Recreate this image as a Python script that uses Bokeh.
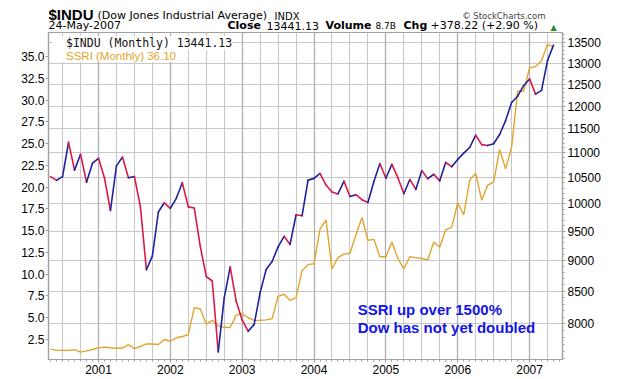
import numpy as np
from bokeh.plotting import figure
from bokeh.layouts import column
from bokeh.models import (Range1d, LinearAxis, LinearScale, FixedTicker, NumeralTickFormatter,
                          Label, Legend, LegendItem, Grid)
from bokeh.embed import file_html
from bokeh.resources import INLINE

# ---------------- data ----------------
months = ["2000-05", "2000-06", "2000-07", "2000-08", "2000-09", "2000-10", "2000-11", "2000-12",
          "2001-01", "2001-02", "2001-03", "2001-04", "2001-05", "2001-06", "2001-07", "2001-08", "2001-09", "2001-10", "2001-11", "2001-12",
          "2002-01", "2002-02", "2002-03", "2002-04", "2002-05", "2002-06", "2002-07", "2002-08", "2002-09", "2002-10", "2002-11", "2002-12",
          "2003-01", "2003-02", "2003-03", "2003-04", "2003-05", "2003-06", "2003-07", "2003-08", "2003-09", "2003-10", "2003-11", "2003-12",
          "2004-01", "2004-02", "2004-03", "2004-04", "2004-05", "2004-06", "2004-07", "2004-08", "2004-09", "2004-10", "2004-11", "2004-12",
          "2005-01", "2005-02", "2005-03", "2005-04", "2005-05", "2005-06", "2005-07", "2005-08", "2005-09", "2005-10", "2005-11", "2005-12",
          "2006-01", "2006-02", "2006-03", "2006-04", "2006-05", "2006-06", "2006-07", "2006-08", "2006-09", "2006-10", "2006-11", "2006-12",
          "2007-01", "2007-02", "2007-03", "2007-04", "2007-05"]

dow = [10522, 10448, 10522, 11215, 10651, 10971, 10415, 10788,
       10887, 10495, 9879, 10735, 10912, 10502, 10523, 9950, 8848, 9075, 9852, 10022,
       9920, 10106, 10404, 9946, 9925, 9243, 8737, 8664, 7592, 8397, 8896, 8342,
       8054, 7891, 7992, 8480, 8850, 8985, 9234, 9416, 9275, 9801, 9782, 10454,
       10488, 10584, 10358, 10226, 10188, 10435, 10140, 10174, 10080, 10027, 10428, 10783,
       10490, 10766, 10504, 10193, 10467, 10275, 10641, 10482, 10569, 10440, 10806, 10718,
       10865, 10993, 11109, 11367, 11168, 11150, 11186, 11381, 11679, 12081, 12222, 12463,
       12622, 12269, 12354, 13063, 13441]

ssri = [1.40, 1.25, 1.25, 1.25, 1.33, 1.05, 1.20, 1.35,
        1.55, 1.63, 1.55, 1.50, 1.52, 1.90, 1.45, 1.70, 2.00, 1.98, 1.93, 2.50,
        2.30, 2.70, 2.85, 3.05, 6.15, 6.00, 4.25, 4.70, 4.05, 3.90, 3.88, 5.30,
        5.45, 5.00, 4.70, 4.70, 4.75, 4.90, 7.45, 7.70, 7.00, 7.30, 10.40, 11.10,
        11.20, 15.20, 16.20, 10.60, 11.90, 12.30, 12.40, 14.50, 16.50, 13.90, 14.00, 12.00,
        12.00, 13.70, 11.80, 10.60, 12.00, 11.90, 11.80, 11.65, 13.70, 13.10, 15.10, 15.40,
        18.20, 16.80, 20.80, 21.60, 18.50, 20.20, 20.60, 24.30, 22.10, 24.60, 31.00, 31.00,
        33.70, 33.85, 34.50, 36.40, 36.10]

year_ticks = [0, 12, 24, 36, 48, 60, 72]
year_labels = ["2001", "2002", "2003", "2004", "2005", "2006", "2007"]
quarter_ticks = [-6, -3, 0, 3, 6, 9, 12, 15, 18, 21, 24, 27, 30, 33, 36, 39, 42, 45, 48,
                 51, 54, 57, 60, 63, 66, 69, 72, 75]
month_ticks = list(range(-8, 78))
dow_ticks = [8000, 8500, 9000, 9500, 10000, 10500, 11000, 11500, 12000, 12500, 13000, 13500]
dow_minor = list(range(7500, 13800, 100))
ssri_ticks = [2.5, 5.0, 7.5, 10.0, 12.5, 15.0, 17.5, 20.0, 22.5, 25.0, 27.5, 30.0, 32.5, 35.0]

# month index relative to Jan 2001
x = np.array([(int(m[:4]) - 2001) * 12 + int(m[5:]) - 1 for m in months])

UP = "#2020a0"
DOWN = "#dd1848"
GOLD = "#e2a42c"
GRID = "#c8c8c8"
YGRID = "#adadad"
AXIS = "#a0a0a0"
FONT = "Liberation Sans"
HFONT = "DejaVu Sans"

X0, X1 = -8.35, 77.5
S0, S1 = 0.204, 37.755
D0, D1 = 7486, 13761
FH = 327
BL, BR = 48, 58   # left / right borders, shared by both strips

# ---------------- header strip ----------------
hp = figure(width=620, height=32, x_range=Range1d(BL, 620 - BR), y_range=Range1d(32, 0),
            x_axis_location=None, y_axis_location=None,
            min_border_left=BL, min_border_right=BR, min_border_top=0, min_border_bottom=0,
            toolbar_location=None, output_backend="svg")
hp.grid.visible = False
hp.outline_line_color = None
hp.background_fill_color = "white"
hp.border_fill_color = "white"


def htxt(t, xx, yy, size="11px", bold=False, color="black", align="left", font=HFONT):
    hp.add_layout(Label(x=xx, y=yy, text=t, text_font=font, text_font_size=size,
                        text_font_style="bold" if bold else "normal",
                        text_color=color, text_align=align, text_baseline="alphabetic"))


htxt("$INDU", 48, 13.5, "15px", True, font=FONT)
htxt("(Dow Jones Industrial Average)", 97, 15, "11px")
htxt("INDX", 274, 15.5, "10px")
htxt("\u00a9 StockCharts.com", 545, 15.5, "8.5px", color="#444444", align="right")
htxt("24-May-2007", 48, 25, "11px")
htxt("Close", 227, 25, "11px", True)
htxt("13441.13", 266, 25, "11px")
htxt("Volume", 325, 25, "11px", True)
htxt("8.7B", 375, 25.5, "9px")
htxt("Chg", 403, 25, "11px", True)
htxt("+378.22 (+2.90 %)", 430, 25, "11px")
htxt("\u25b2", 550, 26.5, "8px", color="#2a8a2a")

# ---------------- main chart ----------------
p = figure(width=620, height=347, y_axis_type="log", y_axis_location="right",
           x_range=Range1d(X0, X1), y_range=Range1d(D0, D1),
           output_backend="svg", toolbar_location=None,
           min_border_left=BL, min_border_right=BR, min_border_top=0, min_border_bottom=20)
p.extra_y_ranges = {"ssri": Range1d(S0, S1)}
p.extra_y_scales = {"ssri": LinearScale()}
p.background_fill_color = "white"
p.border_fill_color = "white"
p.outline_line_color = AXIS
p.outline_line_width = 1.2

# right (Dow, log) axis
dticker = FixedTicker(ticks=dow_ticks, minor_ticks=dow_minor)
ra = p.yaxis[0]
ra.ticker = dticker
ra.formatter = NumeralTickFormatter(format="0")
ra.axis_line_color = AXIS
ra.axis_line_width = 1.2
ra.major_tick_line_color = AXIS
ra.minor_tick_line_color = AXIS
ra.major_tick_out = 3
ra.major_tick_in = 0
ra.minor_tick_out = 2
ra.minor_tick_in = 0
ra.major_label_standoff = 2
ra.major_label_text_font = FONT
ra.major_label_text_font_size = "12px"
ra.major_label_text_color = "black"

# left (SSRI, linear) axis
la = LinearAxis(y_range_name="ssri", ticker=FixedTicker(ticks=ssri_ticks),
                formatter=NumeralTickFormatter(format="0.0"))
la.axis_line_color = AXIS
la.axis_line_width = 1.2
la.major_tick_line_color = AXIS
la.minor_tick_line_color = None
la.major_tick_out = 3
la.major_tick_in = 0
la.major_label_standoff = 1
la.major_label_text_font = FONT
la.major_label_text_font_size = "12px"
la.major_label_text_color = "black"
p.add_layout(la, "left")

# bottom axis
xa = p.xaxis[0]
xa.ticker = FixedTicker(ticks=year_ticks, minor_ticks=month_ticks)
xa.major_label_overrides = {t: l for t, l in zip(year_ticks, year_labels)}
xa.axis_line_color = AXIS
xa.axis_line_width = 1.2
xa.major_tick_line_color = AXIS
xa.minor_tick_line_color = AXIS
xa.major_tick_out = 3
xa.major_tick_in = 0
xa.minor_tick_out = 2
xa.minor_tick_in = 0
xa.major_label_standoff = 2
xa.major_label_text_font = FONT
xa.major_label_text_font_size = "12px"
xa.major_label_text_color = "black"

# grids
p.xgrid.ticker = FixedTicker(ticks=quarter_ticks)
p.xgrid.grid_line_color = GRID
p.xgrid.grid_line_width = 1.1
p.ygrid.ticker = dticker
p.ygrid.grid_line_color = GRID
p.ygrid.grid_line_width = 1.1
p.add_layout(Grid(dimension=0, ticker=FixedTicker(ticks=year_ticks),
                  grid_line_color=YGRID, grid_line_width=1.2))

# series
p.line(x, ssri, y_range_name="ssri", line_color=GOLD, line_width=1.4)
dow_a = np.array(dow, dtype=float)
seg_colors = [UP if b >= a else DOWN for a, b in zip(dow[:-1], dow[1:])]
p.segment(x[:-1], dow_a[:-1], x[1:], dow_a[1:], line_color=seg_colors, line_width=1.6,
          line_cap="round")

# legends
dummy_dow = p.line(x=[], y=[], line_color="#1a1a90", line_width=3)
dummy_ssri = p.line(x=[], y=[], line_color=GOLD, line_width=3)
leg1 = Legend(items=[LegendItem(label="$INDU (Monthly) 13441.13", renderers=[dummy_dow])],
              location=(4, FH - 18), padding=0, margin=0, spacing=0,
              glyph_width=9, glyph_height=12, label_height=12, label_standoff=5,
              label_text_font="DejaVu Sans Mono", label_text_font_size="11.5px",
              label_text_color="#111111", border_line_color=None,
              background_fill_color="white", background_fill_alpha=1.0)
leg2 = Legend(items=[LegendItem(label="SSRI (Monthly) 36.10", renderers=[dummy_ssri])],
              location=(4, FH - 30), padding=0, margin=0, spacing=0,
              glyph_width=9, glyph_height=12, label_height=12, label_standoff=5,
              label_text_font=FONT, label_text_font_size="11.5px",
              label_text_color=GOLD, border_line_color=None,
              background_fill_color="white", background_fill_alpha=1.0)
p.add_layout(leg1)
p.add_layout(leg2)

# annotation (placed in data space of the month / SSRI axes)
p.add_layout(Label(x=43.3, y=5.95, y_range_name="ssri", text="SSRI up over 1500%",
                   text_font=FONT, text_font_size="15px", text_font_style="bold",
                   text_color="#1414e6", text_baseline="alphabetic"))
p.add_layout(Label(x=43.3, y=3.88, y_range_name="ssri", text="Dow has not yet doubled",
                   text_font=FONT, text_font_size="15px", text_font_style="bold",
                   text_color="#1414e6", text_baseline="alphabetic"))

layout = column(hp, p, spacing=0)
open("out.html", "w").write(file_html(layout, INLINE))
